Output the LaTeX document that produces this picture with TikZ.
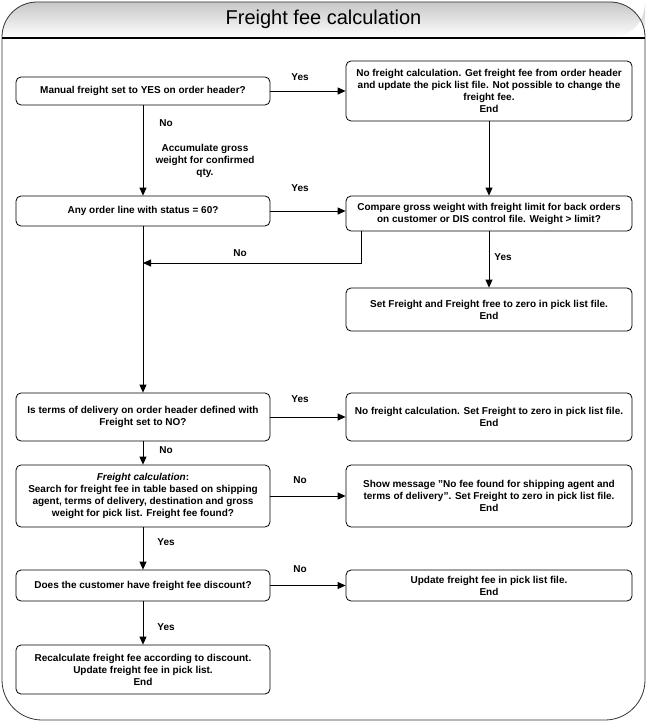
\documentclass[tikz,border=0pt]{standalone}
\usepackage{fontspec}
\setmainfont{Liberation Sans}
\usetikzlibrary{arrows.meta}
\begin{document}
\begin{tikzpicture}[x=1pt,y=-1pt,
  every node/.style={font=\fontsize{10}{12}\selectfont\bfseries, inner sep=0pt, align=center},
  lbox/.style={draw, rounded corners=5pt, line width=0.8pt, minimum width=254pt},
  rbox/.style={draw, rounded corners=5pt, line width=0.8pt, minimum width=286pt},
  arr/.style={line width=0.8pt, -{Triangle[length=8pt,width=7pt]}},
  lbl/.style={font=\fontsize{10}{12}\selectfont\bfseries}
]
\useasboundingbox (0,0) rectangle (647,722);
% title band
\shade[top color=black!22, bottom color=white]
  (2,38) [rounded corners=35pt] -- (2,2) -- (645,2) -- (645,38) [sharp corners] -- cycle;
\draw[line width=0.8pt, black!80] (2,300) [rounded corners=35pt] -- (2,2) -- (645,2) -- (645,300)
  [rounded corners=40pt] -- (645,720) -- (2,720) [sharp corners] -- cycle;
\draw[line width=1.2pt] (2,38) -- (645,38);
\node[font=\fontsize{20}{24}\selectfont] (title) at (323.5,19) {Freight fee calculation};

% boxes
\node[lbox, minimum height=28pt] (B1) at (143,91) {Manual freight set to YES on order header?};
\node[rbox, minimum height=60pt] (B2) at (489,91) {No freight calculation. Get freight fee from order header\\and update the pick list file. Not possible to change the\\freight fee.\\End};
\node[lbox, minimum height=30pt] (B3) at (143,211) {Any order line with status = 60?};
\node[rbox, minimum height=35pt] (B4) at (489,213.5) {Compare gross weight with freight limit for back orders\\on customer or DIS control file. Weight > limit?};
\node[rbox, minimum height=43pt] (B5) at (489,309.5) {Set Freight and Freight free to zero in pick list file.\\End};
\node[lbox, minimum height=48pt] (B6) at (143,417) {Is terms of delivery on order header defined with\\Freight set to NO?};
\node[rbox, minimum height=48pt] (B7) at (489,417) {No freight calculation. Set Freight to zero in pick list file.\\End};
\node[lbox, minimum height=62pt] (B8) at (143,496) {\textit{Freight calculation}:\\Search for freight fee in table based on shipping\\agent, terms of delivery, destination and gross\\weight for pick list. Freight fee found?};
\node[rbox, minimum height=62pt] (B9) at (489,496) {Show message \symbol{34}No fee found for shipping agent and\\terms of delivery\symbol{34}. Set Freight to zero in pick list file.\\End};
\node[lbox, minimum height=31pt] (B10) at (143,585.5) {Does the customer have freight fee discount?};
\node[rbox, minimum height=31pt] (B11) at (489,585.5) {Update freight fee in pick list file.\\End};
\node[lbox, minimum height=49pt] (B12) at (143,669.5) {Recalculate freight fee according to discount.\\Update freight fee in pick list.\\End};

% connectors
\draw[arr] (B1.east) -- (B1.east -| B2.west);
\draw[arr] (B1.south) -- (B3.north);
\draw[arr] (B2.south) -- (B4.north);
\draw[arr] (B3.east) -- (B3.east -| B4.west);
\coordinate (nA) at (361,263);
\draw[arr] (nA |- B4.south) -- (nA) -- (nA -| B3.south);
\draw[arr] (B4.south) -- (B5.north);
\draw[arr] (B3.south) -- (B6.north);
\draw[arr] (B6.east) -- (B6.east -| B7.west);
\draw[arr] (B6.south) -- (B8.north);
\draw[arr] (B8.east) -- (B8.east -| B9.west);
\draw[arr] (B8.south) -- (B10.north);
\draw[arr] (B10.east) -- (B10.east -| B11.west);
\draw[arr] (B10.south) -- (B12.north);

% labels
\node[lbl] (y1) at (300,77) {Yes};
\node[lbl] (n1) at (166,123) {No};
\node[lbl] (acc) at (205,161) {Accumulate gross\\weight for confirmed\\qty.};
\node[lbl] (y2) at (300,188) {Yes};
\node[lbl] (n2) at (240,253) {No};
\node[lbl] (y3) at (503,257) {Yes};
\node[lbl] (y4) at (300,399) {Yes};
\node[lbl] (n3) at (166,450) {No};
\node[lbl] (n4) at (300,480) {No};
\node[lbl] (y5) at (166,542) {Yes};
\node[lbl] (n5) at (300,569) {No};
\node[lbl] (y6) at (166,627) {Yes};
\end{tikzpicture}
\end{document}
